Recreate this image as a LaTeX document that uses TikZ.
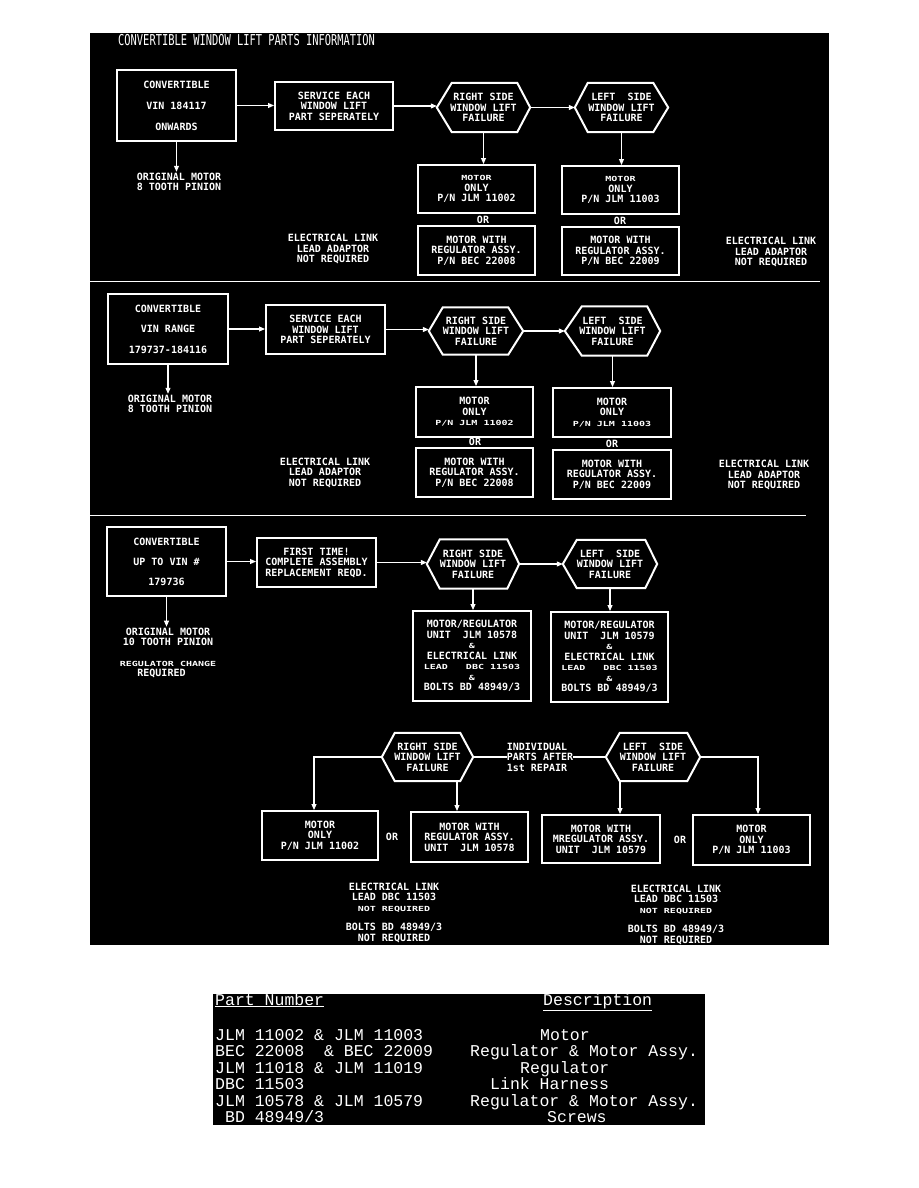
\documentclass[tikz,border=0pt]{standalone}
\usepackage{fontspec}
\usepackage{graphicx}
\usetikzlibrary{arrows.meta}
\newfontfamily\dmono{DejaVu Sans Mono}
\newfontfamily\lmono{Liberation Mono}
\newcommand\dg{\dmono\bfseries\fontsize{10}{10.5}\selectfont}
\newcommand\tb{\lmono\fontsize{16.5}{16.5}\selectfont}
\newcommand\vsq[1]{\scalebox{1}[0.7]{#1}}
\newcommand\hexdraw[3]{\draw[hexline] (#1.west) -- ([xshift=#2]#1.north west) -- ([xshift=-#3]#1.north east) -- (#1.east) -- ([xshift=-#3]#1.south east) -- ([xshift=#2]#1.south west) -- cycle;}
\tikzset{
  boxn/.style={draw=white, line width=2pt, fill=black, text=white, inner sep=0pt, align=center, font=\dg},
  hexn/.style={inner sep=0pt, align=center, text=white, font=\dg},
  hexline/.style={draw=white, line width=2pt, line join=miter},
  note/.style={text=white, align=center, inner sep=0pt, font=\dg},
  conn/.style={draw=white, line width=1.1pt},
  arr/.style={conn, -{Triangle[width=5pt,length=6pt]}},
  sepline/.style={draw=white, line width=1pt},
  tbl/.style={anchor=base west, inner sep=0pt, text=white, font=\tb},
}
\begin{document}
\begin{tikzpicture}[x=1pt,y=-1pt]
\useasboundingbox (0,0) rectangle (918,1188);
\fill[white] (0,0) rectangle (918,1188);
\fill[black] (90,33) rectangle (829,945);
\node[anchor=west, text=white, inner sep=0pt] (title) at (118,40) {\scalebox{1.04}[1.5]{\dmono\fontsize{10}{12}\selectfont CONVERTIBLE WINDOW LIFT PARTS INFORMATION}};
\draw[sepline] (90,281) -- (820,281);
\draw[sepline] (90,515) -- (806,515);

% ---------- section 1
\node[boxn, minimum width=119pt, minimum height=71pt] (s1a) at (176.5,105.5) {CONVERTIBLE\\[10.5pt]VIN 184117\\[10.5pt]ONWARDS};
\node[boxn, minimum width=118pt, minimum height=48pt] (s1b) at (334,106) {SERVICE EACH\\WINDOW LIFT\\PART SEPERATELY};
\node[hexn, minimum width=93pt, minimum height=49pt] (s1h1) at (483.5,107.5) {RIGHT SIDE\\WINDOW LIFT\\FAILURE};
\hexdraw{s1h1}{15pt}{13pt}
\node[hexn, minimum width=93pt, minimum height=49pt] (s1h2) at (621.5,107.5) {LEFT~~SIDE\\WINDOW LIFT\\FAILURE};
\hexdraw{s1h2}{13pt}{15pt}
\node[boxn, minimum width=117pt, minimum height=48pt] (s1m1) at (476.5,189) {\vsq{MOTOR}\\ONLY\\P/N JLM 11002};
\node[note] (s1or1) at (483,220) {OR};
\node[boxn, minimum width=117pt, minimum height=49pt] (s1w1) at (476.5,250.5) {MOTOR WITH\\REGULATOR ASSY.\\P/N BEC 22008};
\node[boxn, minimum width=117pt, minimum height=48pt] (s1m2) at (620.5,190) {\vsq{MOTOR}\\ONLY\\P/N JLM 11003};
\node[note] (s1or2) at (620,221) {OR};
\node[boxn, minimum width=117pt, minimum height=48pt] (s1w2) at (620.5,251) {MOTOR WITH\\REGULATOR ASSY.\\P/N BEC 22009};
\node[note] (s1n1) at (333,249) {ELECTRICAL LINK\\LEAD ADAPTOR\\NOT REQUIRED};
\node[note] (s1n2) at (771,252) {ELECTRICAL LINK\\LEAD ADAPTOR\\NOT REQUIRED};
\node[note, inner sep=1pt] (s1o) at (179,182) {ORIGINAL MOTOR\\8 TOOTH PINION};
\draw[arr] (s1a.east) -- (s1a.east -| s1b.west);
\draw[arr] (s1b.east) -- (s1b.east -| s1h1.west);
\draw[arr] (s1h1.east) -- (s1h2.west);
\draw[arr] (s1h1.south) -- (s1h1.south |- s1m1.north);
\draw[arr] (s1h2.south) -- (s1h2.south |- s1m2.north);
\draw[arr] (s1a.south) -- (s1a.south |- s1o.north);

% ---------- section 2
\node[boxn, minimum width=120pt, minimum height=70pt] (s2a) at (168,329) {CONVERTIBLE\\[10pt]VIN RANGE\\[10pt]179737-184116};
\node[boxn, minimum width=119pt, minimum height=49pt] (s2b) at (325.5,329.5) {SERVICE EACH\\WINDOW LIFT\\PART SEPERATELY};
\node[hexn, minimum width=94pt, minimum height=47pt] (s2h1) at (476,331) {RIGHT SIDE\\WINDOW LIFT\\FAILURE};
\hexdraw{s2h1}{14pt}{15pt}
\node[hexn, minimum width=95pt, minimum height=49pt] (s2h2) at (612.5,331) {LEFT~~SIDE\\WINDOW LIFT\\FAILURE};
\hexdraw{s2h2}{17pt}{13pt}
\node[boxn, minimum width=117pt, minimum height=50pt] (s2m1) at (474.5,412) {MOTOR\\ONLY\\\vsq{P/N JLM 11002}};
\node[note] (s2or1) at (475,442) {OR};
\node[boxn, minimum width=117pt, minimum height=49pt] (s2w1) at (474.5,472.5) {MOTOR WITH\\REGULATOR ASSY.\\P/N BEC 22008};
\node[boxn, minimum width=118pt, minimum height=49pt] (s2m2) at (612,412.5) {MOTOR\\ONLY\\\vsq{P/N JLM 11003}};
\node[note] (s2or2) at (612,444) {OR};
\node[boxn, minimum width=118pt, minimum height=49pt] (s2w2) at (612,474.5) {MOTOR WITH\\REGULATOR ASSY.\\P/N BEC 22009};
\node[note] (s2n1) at (325,472.5) {ELECTRICAL LINK\\LEAD ADAPTOR\\NOT REQUIRED};
\node[note] (s2n2) at (764,475) {ELECTRICAL LINK\\LEAD ADAPTOR\\NOT REQUIRED};
\node[note, inner sep=1pt] (s2o) at (170,404) {ORIGINAL MOTOR\\8 TOOTH PINION};
\draw[arr] (s2a.east) -- (s2a.east -| s2b.west);
\draw[arr] (s2b.east) -- (s2b.east -| s2h1.west);
\draw[arr] (s2h1.east) -- (s2h2.west);
\draw[arr] (s2h1.south) -- (s2h1.south |- s2m1.north);
\draw[arr] (s2h2.south) -- (s2h2.south |- s2m2.north);
\draw[arr] (s2a.south) -- (s2a.south |- s2o.north);

% ---------- section 3
\node[boxn, minimum width=119pt, minimum height=69pt] (s3a) at (166.5,561.5) {CONVERTIBLE\\[9.5pt]UP TO VIN \#\\[9.5pt]179736};
\node[boxn, minimum width=119pt, minimum height=49pt] (s3b) at (316.5,562.5) {FIRST TIME!\\COMPLETE ASSEMBLY\\REPLACEMENT REQD.};
\node[hexn, minimum width=92pt, minimum height=49pt] (s3h1) at (473,564) {RIGHT SIDE\\WINDOW LIFT\\FAILURE};
\hexdraw{s3h1}{13pt}{12pt}
\node[hexn, minimum width=94pt, minimum height=48pt] (s3h2) at (610,564) {LEFT~~SIDE\\WINDOW LIFT\\FAILURE};
\hexdraw{s3h2}{14pt}{12pt}
\node[boxn, minimum width=118pt, minimum height=90pt] (s3r1) at (472,656) {MOTOR/REGULATOR\\UNIT~~JLM 10578\\\vsq{\&}\\ELECTRICAL LINK\\\vsq{LEAD~~~DBC 11503}\\\vsq{\&}\\BOLTS BD 48949/3};
\node[boxn, minimum width=117pt, minimum height=90pt] (s3r2) at (609.5,657) {MOTOR/REGULATOR\\UNIT~~JLM 10579\\\vsq{\&}\\ELECTRICAL LINK\\\vsq{LEAD~~~DBC 11503}\\\vsq{\&}\\BOLTS BD 48949/3};
\node[note, inner sep=1pt] (s3o) at (168,653) {ORIGINAL MOTOR\\10 TOOTH PINION\\[10pt]\vsq{REGULATOR CHANGE}\\REQUIRED\hspace*{13pt}};
\draw[arr] (s3a.east) -- (s3a.east -| s3b.west);
\draw[arr] (s3b.east) -- (s3b.east -| s3h1.west);
\draw[arr] (s3h1.east) -- (s3h2.west);
\draw[arr] (s3h1.south) -- (s3h1.south |- s3r1.north);
\draw[arr] (s3h2.south) -- (s3h2.south |- s3r2.north);
\draw[arr] (s3a.south) -- (s3a.south |- s3o.north);

% ---------- bottom part
\node[hexn, minimum width=91pt, minimum height=48pt] (bhR) at (427.5,757) {RIGHT SIDE\\WINDOW LIFT\\FAILURE};
\hexdraw{bhR}{13pt}{13pt}
\node[hexn, minimum width=94pt, minimum height=48pt] (bhL) at (653,757) {LEFT~~SIDE\\WINDOW LIFT\\FAILURE};
\hexdraw{bhL}{14pt}{13pt}
\node[note, align=left] (ind) at (540,757) {INDIVIDUAL\\PARTS AFTER\\1st REPAIR};
\node[boxn, minimum width=116pt, minimum height=49pt] (mo3) at (320,835.5) {MOTOR\\ONLY\\P/N JLM 11002};
\node[boxn, minimum width=117pt, minimum height=50pt] (mw3) at (469.5,837) {MOTOR WITH\\REGULATOR ASSY.\\UNIT~~JLM 10578};
\node[boxn, minimum width=118pt, minimum height=48pt] (mw4) at (601,839) {MOTOR WITH\\MREGULATOR ASSY.\\UNIT~~JLM 10579};
\node[boxn, minimum width=117pt, minimum height=50pt] (mo4) at (751.5,840) {MOTOR\\ONLY\\P/N JLM 11003};
\node[note] (bor1) at (392,837) {OR};
\node[note] (bor2) at (680,840) {OR};
\node[note] (bn1) at (394,912.5) {ELECTRICAL LINK\\LEAD DBC 11503\\\vsq{NOT REQUIRED}\\[9pt]BOLTS BD 48949/3\\NOT REQUIRED};
\node[note] (bn2) at (676,914.5) {ELECTRICAL LINK\\LEAD DBC 11503\\\vsq{NOT REQUIRED}\\[9pt]BOLTS BD 48949/3\\NOT REQUIRED};
\draw[conn] (bhR.east) -- (ind.west);
\draw[conn] (ind.east) -- (bhL.west);
\coordinate (mo3t) at ([xshift=-6pt]mo3.north);
\draw[arr] (bhR.west) -| (mo3t);
\coordinate (bR1) at ([xshift=29.5pt]bhR.south);
\draw[arr] (bR1) -- (bR1 |- mw3.north);
\coordinate (bL1) at ([xshift=-33pt]bhL.south);
\draw[arr] (bL1) -- (bL1 |- mw4.north);
\coordinate (mo4t) at ([xshift=6.5pt]mo4.north);
\draw[arr] (bhL.east) -| (mo4t);

% ---------- table
\fill[black] (213,994) rectangle (705,1125);
\node[tbl] (th1) at (215,1005) {\underline{Part Number}};
\node[tbl] (th2) at (543,1005) {\underline{Description}};
\node[tbl] (r1a) at (215,1040) {JLM 11002 \& JLM 11003};
\node[tbl] (r2a) at (215,1056.5) {BEC 22008~~\& BEC 22009};
\node[tbl] (r3a) at (215,1073) {JLM 11018 \& JLM 11019};
\node[tbl] (r4a) at (215,1089.5) {DBC 11503};
\node[tbl] (r5a) at (215,1106) {JLM 10578 \& JLM 10579};
\node[tbl] (r6a) at (215,1122.5) {~BD 48949/3};
\node[tbl] (r1b) at (540,1040) {Motor};
\node[tbl] (r2b) at (470,1056.5) {Regulator \& Motor Assy.};
\node[tbl] (r3b) at (520,1073) {Regulator};
\node[tbl] (r4b) at (490,1089.5) {Link Harness};
\node[tbl] (r5b) at (470,1106) {Regulator \& Motor Assy.};
\node[tbl] (r6b) at (547,1122.5) {Screws};
\end{tikzpicture}
\end{document}
